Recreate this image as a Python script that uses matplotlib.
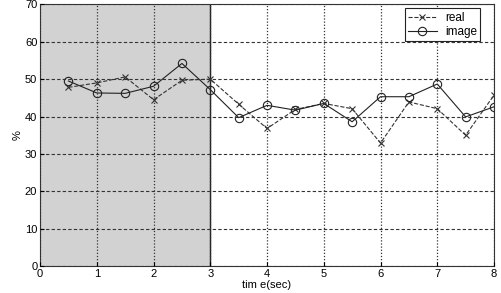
import numpy as np
import matplotlib
matplotlib.use('Agg')
import matplotlib.pyplot as plt

plt.rcParams['font.family'] = ['Liberation Sans', 'DejaVu Sans']

t = [0.5, 1, 1.5, 2, 2.5, 3, 3.5, 4, 4.5, 5, 5.5, 6, 6.5, 7, 7.5, 8]
real = [47.8, 49.0, 50.6, 44.5, 49.7, 50.0, 43.3, 36.8, 41.9, 43.5, 42.1, 32.9, 43.9, 42.1, 35.0, 45.7]
image = [49.5, 46.3, 46.2, 48.1, 54.2, 47.2, 39.7, 43.0, 41.7, 43.5, 38.6, 45.3, 45.3, 48.7, 39.9, 42.6]

fig = plt.figure(figsize=(5.01, 2.93), dpi=100)
ax = fig.add_axes([0.08, 0.092, 0.906, 0.893])

# shaded part
ax.axvspan(0, 3, color='#d2d2d2', zorder=0)
ax.axvline(3, color='#222222', lw=1, zorder=1)

ax.plot(t, real, '--x', color='#333333', lw=0.8, ms=4, mew=0.8, label='real')
ax.plot(t, image, '-o', color='#222222', lw=0.8, ms=6, mfc='none', mew=0.8, label='image')

ax.set_xlim(0, 8)
ax.set_ylim(0, 70)
ax.set_xticks(range(0, 9))
ax.set_yticks(range(0, 71, 10))
ax.yaxis.grid(True, ls=(0, (3, 2)), color='#333333', lw=0.8)
ax.xaxis.grid(True, ls=(0, (1, 1.5)), color='#333333', lw=0.9)
ax.set_axisbelow(False)
ax.tick_params(direction='in', labelsize=8, length=3, pad=2)
ax.set_xlabel('tim e(sec)', fontsize=8, labelpad=1)
ax.set_ylabel('%', fontsize=8, labelpad=2)
for s in ax.spines.values():
    s.set_color('#333333')

leg = ax.legend(loc='upper right', bbox_to_anchor=(0.97, 0.985), fontsize=8.5,
                fancybox=False, framealpha=1, edgecolor='#222222', borderpad=0.3,
                labelspacing=0.15, handlelength=2.4, handletextpad=0.7, borderaxespad=0)
leg.get_frame().set_linewidth(0.8)

fig.savefig('out.png', dpi=100)
